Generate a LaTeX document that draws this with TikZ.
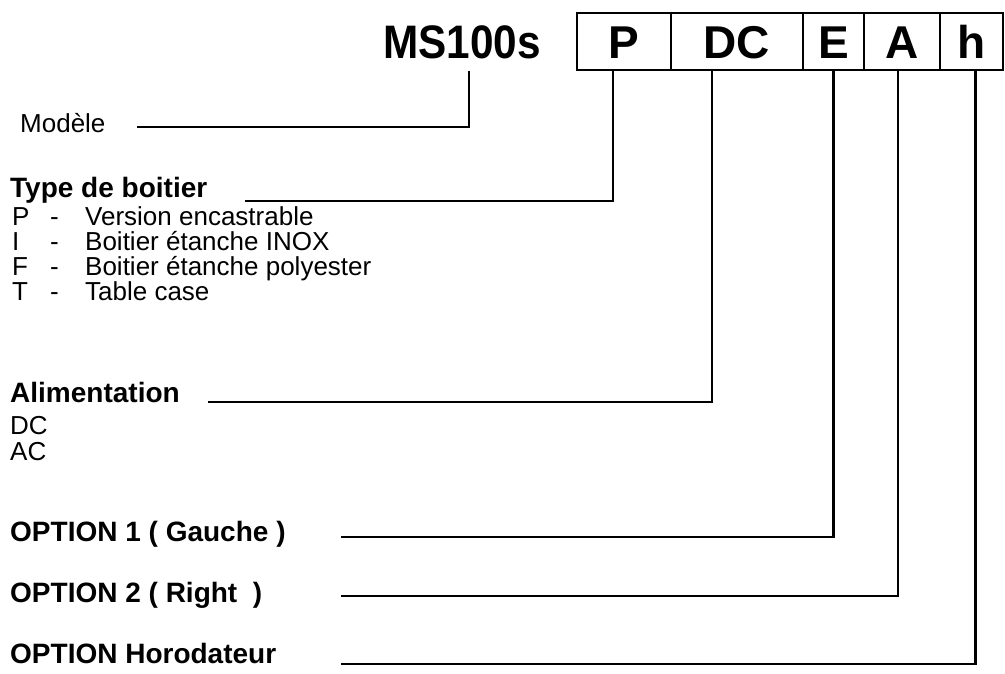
\documentclass[tikz,border=0pt]{standalone}
\usepackage{fontspec}
\setmainfont{Liberation Sans}
\usepackage{graphicx}
\usetikzlibrary{positioning}

\begin{document}
\begin{tikzpicture}[x=1pt, y=-1pt,
  cell/.style={draw, line width=2pt, minimum height=57, inner sep=0pt,
    text height=33, text depth=0, font=\fontsize{46}{52}\selectfont\bfseries},
  head/.style={anchor=base west, inner sep=0pt, text height=20, text depth=5,
    font=\fontsize{28}{34}\selectfont\bfseries},
  item/.style={anchor=base west, inner sep=0pt, text height=19, text depth=4,
    font=\fontsize{26}{30}\selectfont},
  lead/.style={line width=2.4pt}]
  \useasboundingbox (0,0) rectangle (1005,673);
  % Code
  \node[anchor=base east, inner sep=0pt, font=\fontsize{47}{52}\selectfont\bfseries]
    (ms) at (541,58) {\scalebox{0.9}[1]{MS100s}};
  \node[cell, minimum width=94] (cP) at (624,41.5) {P};
  \node[cell, minimum width=132] (cDC) at (737,41.5) {DC};
  \node[cell, minimum width=61] (cE) at (833.5,41.5) {E};
  \node[cell, minimum width=76] (cA) at (902,41.5) {A};
  \node[cell, minimum width=63] (ch) at (971.5,41.5) {h};
  % Labels
  \node[item] (mod) at (20,132) {Modèle};
  \node[head] (typ) at (10,197) {Type de boitier};
  \foreach \k/\t/\y in {P/Version encastrable/225, I/Boitier étanche INOX/250,
                        F/Boitier étanche polyester/275, T/Table case/300} {
    \node[item] (k\k) at (12,\y) {\k};
    \node[item] (d\k) at (50,\y) {-};
    \node[item] (t\k) at (85,\y) {\t};
  }
  \node[head] (ali) at (10,402) {Alimentation};
  \node[item] (dc) at (10,434) {DC};
  \node[item] (ac) at (10,460) {AC};
  \node[head] (op1) at (10,541) {OPTION 1 ( Gauche )};
  \node[head] (op2) at (10,602) {OPTION 2 ( Right\ \ )};
  \node[head] (op3) at (10,663) {OPTION Horodateur};
  % Leads
  \coordinate (mE) at (137,127);
  \coordinate (tE) at (245,201);
  \coordinate (aE) at (208,402);
  \coordinate (o1E) at (341,537);
  \coordinate (o2E) at (341,596);
  \coordinate (o3E) at (341,664);
  \draw[lead] ([xshift=7,yshift=-12]ms.south) |- (mE);
  \draw[lead] ([xshift=-11]cP.south) |- (tE);
  \draw[lead] ([xshift=-25]cDC.south) |- (aE);
  \draw[lead] (cE.south) |- (o1E);
  \draw[lead] ([xshift=-4]cA.south) |- (o2E);
  \draw[lead] ([xshift=4]ch.south) |- (o3E);
\end{tikzpicture}
\end{document}
